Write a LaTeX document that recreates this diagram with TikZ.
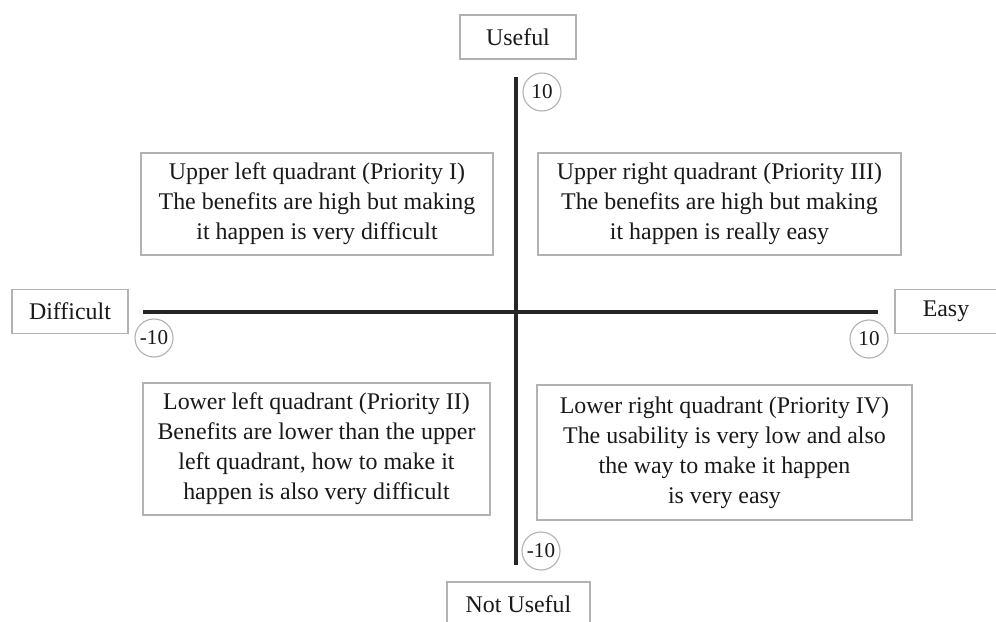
\documentclass[tikz,border=0pt]{standalone}
\usepackage{fontspec}
\setmainfont{Liberation Serif}
\usepackage{tikz}
\usetikzlibrary{positioning}

\begin{document}
\begin{tikzpicture}[
  x=0.025cm,y=-0.025cm,
  font=\fontsize{17}{21.3}\selectfont,
  %--- node styles ---
  axislabel/.style={draw=black!30,line width=1pt,fill=white,text=black!90,
                    minimum width=2.9cm,minimum height=1.1cm,inner sep=2pt},
  quad/.style     ={draw=black!30,line width=1pt,fill=white,text=black!90,
                    align=center,inner sep=2pt},
  tick/.style     ={circle,draw=black!30,line width=0.8pt,text=black!90,
                    font=\fontsize{15}{18}\selectfont,
                    minimum size=0.95cm,inner sep=0pt},
  %--- line styles ---
  axis/.style     ={line width=2.4pt,draw=black!85},
]
\useasboundingbox (0,0) rectangle (996,621);

%==================== axis labels ====================
\node[axislabel] (useful)    at (518,37)    {Useful};
\node[axislabel,minimum width=3.575cm] (notuseful) at (518.5,604) {Not Useful};
\node[axislabel] (difficult) at (70,311.5)  {Difficult};
\node[axislabel,minimum width=2.55cm] (easy) at (946,311.5) {Easy};

%==================== axes ====================
\coordinate (ytop)    at (516,77);
\coordinate (ybottom) at (516,565);
\coordinate (xleft)   at (143,312);
\coordinate (xright)  at (878,312);
\draw[axis] (ytop) -- (ybottom);
\draw[axis] (xleft) -- (xright);

%==================== scale marks ====================
\node[tick] (ymax) at (542,92)  {10};
\node[tick] (ymin) at (541,551) {-10};
\node[tick] (xmin) at (154,338) {-10};
\node[tick] (xmax) at (869,339) {10};

%==================== quadrants ====================
\node[quad,minimum width=8.8cm,minimum height=2.55cm] (ul) at (317,204)
  {Upper left quadrant (Priority I)\\The benefits are high but making\\it happen is very difficult};
\node[quad,minimum width=9.075cm,minimum height=2.55cm] (ur) at (719.5,204)
  {Upper right quadrant (Priority III)\\The benefits are high but making\\it happen is really easy};
\node[quad,minimum width=8.675cm,minimum height=3.3cm] (ll) at (316.5,449)
  {Lower left quadrant (Priority II)\\Benefits are lower than the upper\\left quadrant, how to make it\\happen is also very difficult};
\node[quad,minimum width=9.375cm,minimum height=3.375cm] (lr) at (724.5,452.5)
  {Lower right quadrant (Priority IV)\\The usability is very low and also\\the way to make it happen\\is very easy};

\end{tikzpicture}
\end{document}
